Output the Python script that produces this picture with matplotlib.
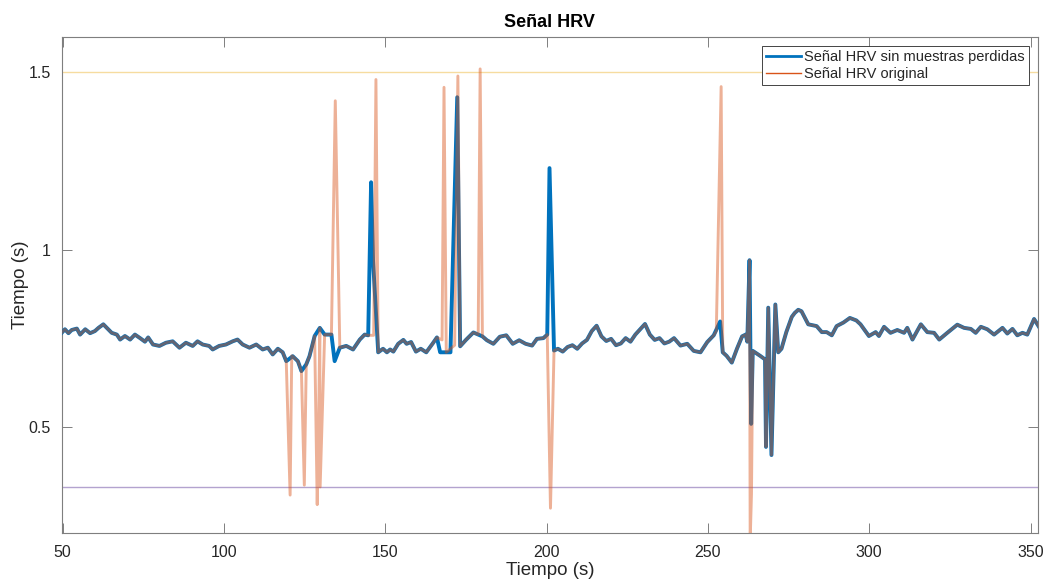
import numpy as np
import matplotlib.pyplot as plt

plt.rcParams['font.family'] = ['Liberation Sans', 'DejaVu Sans']

# samples shared by both signals (time s, RR s)
t_common = [49.2, 50.7, 51.8, 52.8, 54.4, 55.4, 57.0, 58.5, 60.0, 61.1, 62.6, 63.7, 65.2, 66.8,
            67.8, 69.3, 70.9, 72.4, 74.0, 75.5, 76.5, 78.0, 80.0, 82.0, 84.1, 86.2, 88.2, 90.3,
            91.8, 93.4, 95.4, 96.5, 98.5, 100.6, 102.7, 104.2, 105.8, 107.9, 110.0, 112.0, 113.6,
            115.1, 116.7, 118.2, 119.3, 121.3, 122.9, 124.0, 125.5, 126.5, 128.1, 129.7, 131.2,
            132.3, 133.3, 135.9, 137.9, 140.0, 142.1, 143.6, 144.7, 147.8, 149.3, 150.5, 151.5,
            152.5, 154.0, 155.6, 156.6, 158.0, 159.5, 161.0, 162.7, 164.7, 166.0, 173.2, 175.0,
            177.3, 180.1, 181.5, 183.5, 185.5, 187.5, 189.5, 191.5, 193.5, 195.5, 197.0, 199.0,
            200.2, 202.3, 203.5, 205.0, 206.5, 208.0, 209.5, 211.0, 212.5, 214.0, 215.5, 217.0,
            218.5, 220.0, 221.5, 223.0, 224.5, 226.0, 227.5, 229.0, 230.5, 232.0, 233.5, 235.0,
            236.5, 238.0, 239.5, 241.5, 243.6, 245.6, 247.7, 249.8, 251.8, 254.6, 255.8, 257.4,
            259.0, 260.6, 261.7, 262.2, 262.9, 263.9, 266.2, 267.7, 268.0, 268.7, 269.7, 270.9,
            271.8, 272.8, 274.3, 276.0, 276.9, 278.0, 279.0, 281.1, 283.7, 285.3, 286.8, 288.4,
            289.9, 292.0, 294.0, 296.0, 297.3, 299.9, 302.0, 303.0, 304.6, 306.6, 308.7, 310.8,
            311.8, 313.4, 316.0, 318.0, 320.1, 321.7, 324.2, 327.3, 329.4, 331.5, 333.0, 334.6,
            336.6, 338.7, 341.3, 342.8, 344.4, 345.9, 347.5, 349.0, 351.1, 352.6]
v_common = [0.760, 0.775, 0.764, 0.773, 0.777, 0.760, 0.775, 0.764, 0.770, 0.779, 0.789, 0.779,
            0.765, 0.760, 0.746, 0.756, 0.746, 0.760, 0.750, 0.740, 0.752, 0.732, 0.728, 0.737,
            0.741, 0.723, 0.737, 0.728, 0.741, 0.732, 0.728, 0.718, 0.728, 0.732, 0.741, 0.746,
            0.732, 0.723, 0.732, 0.718, 0.723, 0.704, 0.720, 0.710, 0.685, 0.699, 0.685, 0.657,
            0.676, 0.699, 0.756, 0.779, 0.760, 0.760, 0.760, 0.723, 0.728, 0.718, 0.746, 0.760,
            0.758, 0.710, 0.720, 0.710, 0.718, 0.712, 0.734, 0.745, 0.734, 0.739, 0.712, 0.720,
            0.710, 0.735, 0.752, 0.727, 0.745, 0.766, 0.755, 0.744, 0.734, 0.754, 0.758, 0.734,
            0.744, 0.734, 0.729, 0.748, 0.750, 0.760, 0.715, 0.720, 0.712, 0.725, 0.730, 0.720,
            0.735, 0.745, 0.770, 0.785, 0.755, 0.742, 0.748, 0.730, 0.735, 0.750, 0.740, 0.760,
            0.775, 0.790, 0.760, 0.745, 0.750, 0.735, 0.740, 0.750, 0.729, 0.734, 0.714, 0.710,
            0.739, 0.758, 0.710, 0.700, 0.681, 0.720, 0.755, 0.760, 0.740, 0.970, 0.714, 0.700,
            0.690, 0.443, 0.836, 0.420, 0.845, 0.710, 0.720, 0.767, 0.810, 0.821, 0.830, 0.826,
            0.789, 0.784, 0.767, 0.767, 0.758, 0.784, 0.794, 0.807, 0.800, 0.789, 0.756, 0.767,
            0.756, 0.782, 0.765, 0.773, 0.765, 0.779, 0.746, 0.789, 0.767, 0.765, 0.746, 0.765,
            0.788, 0.779, 0.776, 0.765, 0.782, 0.775, 0.760, 0.779, 0.763, 0.776, 0.758, 0.765,
            0.760, 0.804, 0.782]

# samples only in the corrected signal
t_corr = [134.3, 145.6, 146.2, 167.0, 170.2, 172.3, 200.9, 253.8, 263.4]
v_corr = [0.685, 1.190, 0.970, 0.710, 0.710, 1.430, 1.230, 0.797, 0.508]

# samples only in the original signal
t_orig = [120.5, 121.0, 124.9, 128.9, 129.3, 129.8, 134.5, 146.4, 147.1, 167.6, 168.2, 168.9,
          171.5, 172.5, 178.8, 179.4, 201.2, 252.6, 254.1, 263.1, 263.5]
v_orig = [0.307, 0.700, 0.335, 0.280, 0.480, 0.330, 1.420, 0.758, 1.480, 0.745, 1.458, 0.710,
          0.730, 1.490, 0.760, 1.510, 0.270, 0.770, 1.460, 0.180, 0.310]

upper_lim = 1.5
lower_lim = 0.33


def merge(t_a, v_a, t_b, v_b):
    t = np.array(t_a + t_b)
    v = np.array(v_a + v_b)
    idx = np.argsort(t, kind="stable")
    return t[idx], v[idx]


t_c, v_c = merge(t_common, v_common, t_corr, v_corr)
t_o, v_o = merge(t_common, v_common, t_orig, v_orig)

blue = (0, 0.447, 0.741)
orange = (0.85, 0.325, 0.098)
dark = "#262626"

fig = plt.figure(figsize=(10.46, 5.83), dpi=100)
ax = fig.add_axes([0.0593, 0.0858, 0.9327, 0.8507])

ax.plot(t_c, v_c, color=blue, lw=2.8, label="Señal HRV sin muestras perdidas", zorder=3)
# translucent stroke: over the blue line it gives the slate colour of the original
ax.plot(t_o, v_o, color=orange, lw=2.1, alpha=0.45, label="Señal HRV original", zorder=4)
ax.axhline(upper_lim, color="#f6dca0", lw=1.0, zorder=2)
ax.axhline(lower_lim, color="#b3a3cf", lw=1.0, zorder=2)

ax.set_xlim(49.8, 352.2)
ax.set_ylim(0.2, 1.6)
ax.set_xticks([50, 100, 150, 200, 250, 300, 350])
ax.set_yticks([0.5, 1, 1.5])
ax.set_yticklabels(["0.5", "1", "1.5"])
ax.tick_params(direction="in", length=7, width=0.7, color="#7f7f7f",
               top=True, right=True, labelsize=11.5, labelcolor=dark)
ax.tick_params(axis="x", pad=9)
ax.tick_params(axis="y", pad=8)
for s in ax.spines.values():
    s.set_color("#7f7f7f")
    s.set_linewidth(0.8)

ax.set_title("Señal HRV", fontsize=13, fontweight="bold", color="black", pad=7)
ax.set_xlabel("Tiempo (s)", fontsize=13.5, color=dark, labelpad=1)
ax.set_ylabel("Tiempo (s)", fontsize=13.5, color=dark, labelpad=0)

leg = ax.legend(loc="upper right", fontsize=10.5, frameon=True, fancybox=False,
                framealpha=1, edgecolor=dark, borderpad=0.3, labelspacing=0.2,
                handlelength=2.4, handletextpad=0.2, borderaxespad=0.6)
leg.get_frame().set_linewidth(0.6)
for line in leg.get_lines():
    line.set_linewidth(2.0)
    line.set_alpha(1.0)
leg.get_lines()[1].set_linewidth(1.0)
for txt in leg.get_texts():
    txt.set_color(dark)

fig.savefig("out.png", dpi=100)
